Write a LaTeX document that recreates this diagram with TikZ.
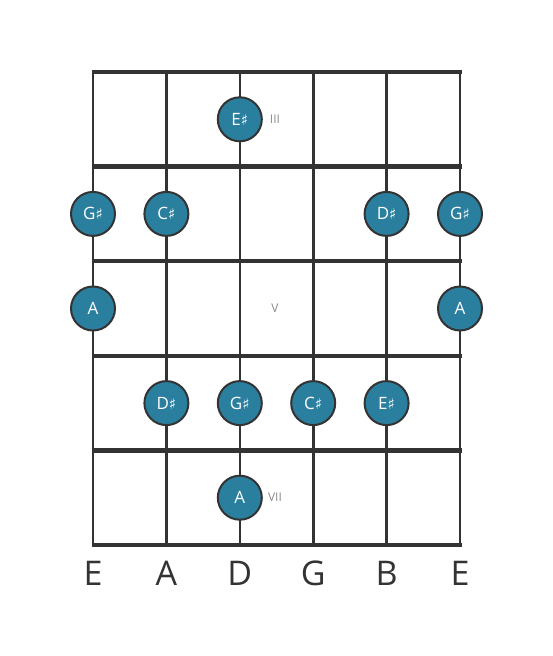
\documentclass[tikz,border=0pt]{standalone}
\usepackage{fontspec}
\setmainfont{Open Sans}
\newfontfamily\symfont{DejaVu Sans}
\usepackage{xcolor}
\definecolor{noteblue}{HTML}{2A7F9E}
\definecolor{boardgray}{HTML}{333333}
\definecolor{fretgray}{HTML}{8A8A8A}
\newcommand{\shp}{{\symfont\fontsize{15pt}{15pt}\selectfont ♯}}
\tikzset{
	note/.style={circle,draw=boardgray,line width=2pt,fill=noteblue,minimum size=44pt,inner sep=0pt,text=white,font=\fontsize{17pt}{17pt}\selectfont},
	fretnum/.style={text=fretgray,font=\fontsize{12pt}{12pt}\selectfont},
	strname/.style={text=boardgray,font=\fontsize{34pt}{34pt}\selectfont}
}

\begin{document}
\begin{tikzpicture}[x=1pt,y=-1pt]
		\useasboundingbox (0,0) rectangle (553,656);
		% strings
		\foreach \s in {0,...,5}
			\draw[boardgray,line width=2.6pt] (93+73.4*\s,72) -- (93+73.4*\s,545);
		% frets
		\foreach \f in {0,...,5}
			\draw[boardgray,line width=4.5pt] (91.5,72+94.6*\f) -- (461.5,72+94.6*\f);

		% fret numbers
		\node[fretnum] (f3) at (275,119.3) {III};
		\node[fretnum] (f5) at (275,308.5) {V};
		\node[fretnum] (f7) at (275,497.7) {VII};

		% notes
		\node[note] (n1) at (239.8,119.3) {E\shp};

		\node[note] (n2) at (93,213.9) {G\shp};
		\node[note] (n3) at (166.4,213.9) {C\shp};
		\node[note] (n4) at (386.6,213.9) {D\shp};
		\node[note] (n5) at (460,213.9) {G\shp};

		\node[note] (n6) at (93,308.5) {A};
		\node[note] (n7) at (460,308.5) {A};

		\node[note] (n8) at (166.4,403.1) {D\shp};
		\node[note] (n9) at (239.8,403.1) {G\shp};
		\node[note] (n10) at (313.2,403.1) {C\shp};
		\node[note] (n11) at (386.6,403.1) {E\shp};

		\node[note] (n12) at (239.8,497.7) {A};

		% string names
		\node[strname] (sE) at (93,573) {E};
		\node[strname] (sA) at (166.4,573) {A};
		\node[strname] (sD) at (239.8,573) {D};
		\node[strname] (sG) at (313.2,573) {G};
		\node[strname] (sB) at (386.6,573) {B};
		\node[strname] (se) at (460,573) {E};
\end{tikzpicture}
\end{document}
